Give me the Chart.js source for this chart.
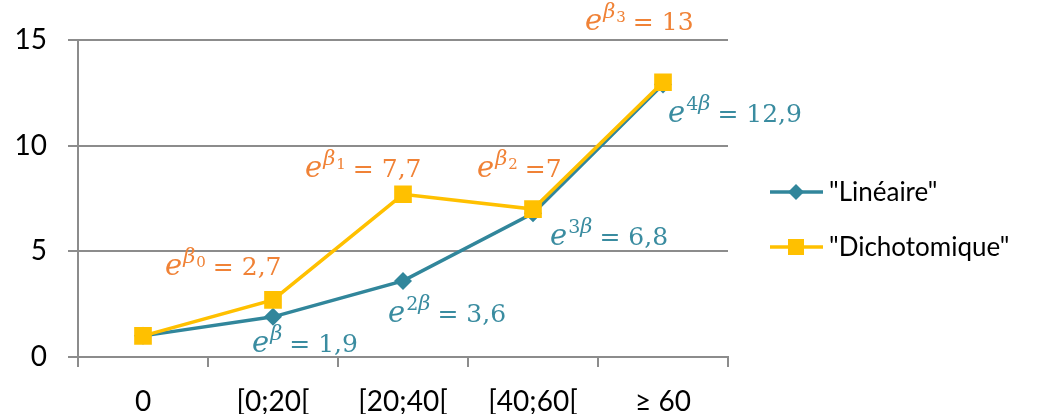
<!DOCTYPE html>
<html>
<head>
<meta charset="utf-8">
<script src="https://cdn.jsdelivr.net/npm/chart.js@4/dist/chart.umd.min.js"></script>
<style>
  html, body { margin: 0; padding: 0; background: #ffffff; }
  #wrap { width: 1044px; height: 414px; position: relative; }
</style>
</head>
<body>
<div id="wrap"><canvas id="chart" width="1044" height="414"></canvas></div>
<script>
// Age classes on the x axis
const categories = ['0', '[0;20[', '[20;40[', '[40;60[', '\u2265 60'];
// Odds ratios per class
const lineaire = [1, 1.9, 3.6, 6.8, 12.9];
const dichotomique = [1, 2.7, 7.7, 7, 13];
const yTicks = [0, 5, 10, 15];

// Exponent of each formula label: coefficient prefix and subscript of beta
const lineaireExp = [null, { pre: '', sub: '' }, { pre: '2', sub: '' }, { pre: '3', sub: '' }, { pre: '4', sub: '' }];
const dichoExp = [null, { pre: '', sub: '0' }, { pre: '', sub: '1' }, { pre: '', sub: '2' }, { pre: '', sub: '3' }];

const BLUE = '#31869b';
const YELLOW = '#ffc000';
const ORANGE = '#f08236';
const LABEL_BLUE = '#3a8ca0';
const GRID = '#8c8c8c';
const TICK_FONT = { family: 'Lato', size: 28 };

// Label placement relative to its point (left edge, baseline)
const labelOffsets = {
  0: [null, [-21, 35], [-15, 41], [17, 32], [5, 38]],
  1: [null, [-108, -25], [-98, -17], [-56, -32], [-78, -52]]
};

function fmt(v) { return String(v).replace('.', ','); }

function drawMath(ctx, x, y, exp, eqText, color) {
  ctx.save();
  ctx.fillStyle = color;
  ctx.textAlign = 'left';
  ctx.textBaseline = 'alphabetic';
  ctx.font = 'italic 29px "DejaVu Serif"';
  ctx.fillText('e', x, y);
  x += ctx.measureText('e').width + 1;
  const supY = y - 12;
  if (exp.pre) {
    ctx.font = '19px "DejaVu Serif"';
    ctx.fillText(exp.pre, x, supY);
    x += ctx.measureText(exp.pre).width;
  }
  ctx.font = 'italic 21px "DejaVu Serif"';
  ctx.fillText('\u03b2', x, supY);
  x += ctx.measureText('\u03b2').width;
  if (exp.sub) {
    ctx.font = '15px "DejaVu Serif"';
    ctx.fillText(exp.sub, x + 1, supY + 4);
    x += ctx.measureText(exp.sub).width + 1;
  }
  x += 7;
  ctx.font = '25px "DejaVu Serif"';
  ctx.fillText(eqText, x, y);
  ctx.restore();
}

const formulaLabels = {
  id: 'formulaLabels',
  afterDatasetsDraw(chart) {
    const ctx = chart.ctx;
    const sets = [
      { ds: 0, exps: lineaireExp, color: LABEL_BLUE, data: lineaire },
      { ds: 1, exps: dichoExp, color: ORANGE, data: dichotomique }
    ];
    sets.forEach(s => {
      const meta = chart.getDatasetMeta(s.ds);
      s.exps.forEach((exp, i) => {
        if (!exp) return;
        const pt = meta.data[i];
        const off = labelOffsets[s.ds][i];
        const tight = (s.ds === 1 && i === 3);
        const eq = (tight ? '=' : '= ') + fmt(s.data[i]);
        drawMath(ctx, pt.x + off[0], pt.y + off[1], exp, eq, s.color);
      });
    });
  }
};

const sideLegend = {
  id: 'sideLegend',
  afterDraw(chart) {
    const ctx = chart.ctx;
    const rows = [
      { y: 192, ds: chart.data.datasets[0] },
      { y: 247, ds: chart.data.datasets[1] }
    ];
    rows.forEach(r => {
      ctx.save();
      ctx.strokeStyle = r.ds.borderColor;
      ctx.lineWidth = 3.5;
      ctx.beginPath();
      ctx.moveTo(770, r.y);
      ctx.lineTo(823, r.y);
      ctx.stroke();
      ctx.fillStyle = r.ds.borderColor;
      if (r.ds.pointStyle === 'rectRot') {
        ctx.beginPath();
        ctx.moveTo(796, r.y - 8);
        ctx.lineTo(804, r.y);
        ctx.lineTo(796, r.y + 8);
        ctx.lineTo(788, r.y);
        ctx.closePath();
        ctx.fill();
      } else {
        ctx.fillRect(788, r.y - 8, 16, 16);
      }
      ctx.fillStyle = '#000';
      ctx.font = '26px Lato';
      ctx.textBaseline = 'middle';
      ctx.textAlign = 'left';
      ctx.fillText(r.ds.label, 829, r.y + 1);
      ctx.restore();
    });
  }
};

new Chart(document.getElementById('chart'), {
  type: 'line',
  data: {
    labels: categories,
    datasets: [
      {
        label: '"Lin\u00e9aire"',
        data: lineaire,
        borderColor: BLUE,
        backgroundColor: BLUE,
        borderWidth: 3.5,
        pointStyle: 'rectRot',
        pointRadius: 9,
        pointBorderWidth: 0,
        order: 1
      },
      {
        label: '"Dichotomique"',
        data: dichotomique,
        borderColor: YELLOW,
        backgroundColor: YELLOW,
        borderWidth: 3.5,
        pointStyle: 'rect',
        pointRadius: 12.5,
        pointBorderWidth: 0,
        order: 0
      }
    ]
  },
  options: {
    responsive: false,
    animation: false,
    layout: { padding: { top: 40, right: 316, left: 0, bottom: 0 } },
    plugins: { legend: { display: false }, tooltip: { enabled: false } },
    scales: {
      x: {
        offset: true,
        grid: { offset: true, drawOnChartArea: false, drawTicks: true, tickLength: 10, color: GRID, lineWidth: 2 },
        border: { color: GRID, width: 2 },
        ticks: { color: '#000', font: TICK_FONT, padding: 18, maxRotation: 0, autoSkip: false },
        afterFit(s) { s.height = 57; }
      },
      y: {
        min: 0,
        max: 15,
        afterBuildTicks(s) { s.ticks = yTicks.map(v => ({ value: v })); },
        grid: { color: GRID, lineWidth: 2, tickLength: 10 },
        border: { color: GRID, width: 2 },
        ticks: { color: '#000', font: TICK_FONT, padding: 21 },
        afterFit(s) { s.width = 78; }
      }
    }
  },
  plugins: [formulaLabels, sideLegend]
});
</script>
</body>
</html>
